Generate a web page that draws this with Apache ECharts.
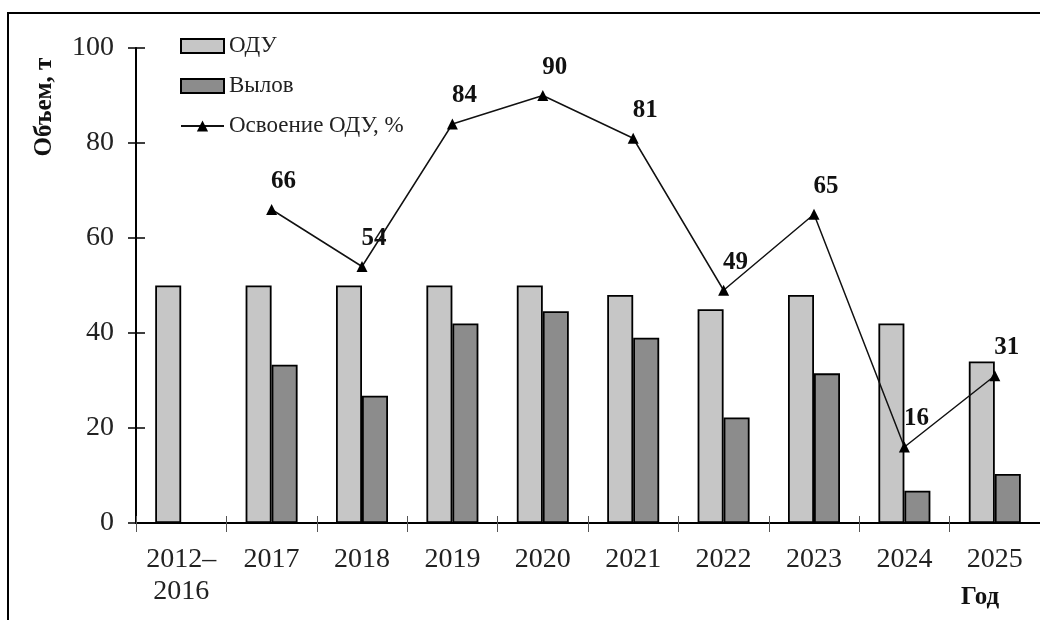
<!DOCTYPE html>
<html>
<head>
<meta charset="utf-8">
<script src="https://cdn.jsdelivr.net/npm/echarts@6/dist/echarts.min.js"></script>
<style>
html,body{margin:0;padding:0;background:#fff;}
#chart{width:1040px;height:620px;}
</style>
</head>
<body>
<div id="chart"></div>
<script>
const categories = ['2012–\n2016', '2017', '2018', '2019', '2020', '2021', '2022', '2023', '2024', '2025'];
const oduValues = [50, 50, 50, 50, 50, 48, 45, 48, 42, 34];
const catchValues = [null, 33.3, 26.8, 42, 44.6, 39, 22.2, 31.5, 6.8, 10.3];
const usagePercent = [null, 66, 54, 84, 90, 81, 49, 65, 16, 31];
const yTicks = { min: 0, max: 100, interval: 20 };

const serif = "'Liberation Serif', 'Times New Roman', serif";

const chart = echarts.init(document.getElementById('chart'));
chart.setOption({
  animation: false,
  backgroundColor: '#ffffff',
  textStyle: { fontFamily: serif },
  grid: { left: 136, right: -4, top: 48, bottom: 97, containLabel: false },
  legend: {
    orient: 'vertical',
    left: 180,
    top: 34,
    padding: 0,
    itemWidth: 43,
    itemHeight: 14,
    itemGap: 16,
    textStyle: { fontFamily: serif, fontSize: 23, color: '#222', lineHeight: 24 },
    data: [
      { name: 'ОДУ', icon: 'rect' },
      { name: 'Вылов', icon: 'rect' },
      { name: 'Освоение ОДУ, %' }
    ]
  },
  xAxis: [
    {
      type: 'category',
      data: categories,
      position: 'bottom',
      axisLine: { show: true, lineStyle: { color: '#000', width: 2 } },
      axisTick: { show: true, alignWithLabel: false, length: 9, lineStyle: { color: '#555', width: 1 } },
      axisLabel: { fontFamily: serif, fontSize: 28, color: '#222', margin: 21, lineHeight: 32, interval: 0 }
    },
    {
      type: 'category',
      data: categories,
      position: 'bottom',
      axisLine: { show: false },
      axisTick: { show: true, inside: true, length: 7, lineStyle: { color: '#555', width: 1 } },
      axisLabel: { show: false }
    }
  ],
  yAxis: [
    {
      type: 'value',
      min: yTicks.min, max: yTicks.max, interval: yTicks.interval,
      position: 'left',
      splitLine: { show: false },
      axisLine: { show: true, lineStyle: { color: '#000', width: 2 } },
      axisTick: { show: true, length: 8, lineStyle: { color: '#000', width: 1.5 } },
      axisLabel: { fontFamily: serif, fontSize: 28, color: '#222', margin: 22 }
    },
    {
      type: 'value',
      min: yTicks.min, max: yTicks.max, interval: yTicks.interval,
      position: 'left',
      splitLine: { show: false },
      axisLine: { show: false },
      axisTick: { show: true, inside: true, length: 9, lineStyle: { color: '#000', width: 1.5 } },
      axisLabel: { show: false }
    }
  ],
  series: [
    {
      name: 'ОДУ',
      type: 'bar',
      data: oduValues,
      barWidth: 26,
      barGap: '0%',
      itemStyle: { color: '#c6c6c6', borderColor: '#000', borderWidth: 1.8 }
    },
    {
      name: 'Вылов',
      type: 'bar',
      data: catchValues,
      barWidth: 26,
      barGap: '0%',
      itemStyle: { color: '#8c8c8c', borderColor: '#000', borderWidth: 1.8 }
    },
    {
      name: 'Освоение ОДУ, %',
      type: 'line',
      data: usagePercent,
      z: 5,
      connectNulls: false,
      symbol: 'triangle',
      symbolSize: 11,
      lineStyle: { color: '#111', width: 1.5 },
      itemStyle: { color: '#000' },
      label: {
        show: true,
        position: 'top',
        offset: [12, -5],
        fontFamily: serif,
        fontWeight: 'bold',
        fontSize: 25,
        color: '#111'
      }
    }
  ],
  graphic: [
    {
      type: 'polyline',
      shape: { points: [[8, 620], [8, 13], [1040, 13]] },
      style: { stroke: '#000', lineWidth: 2, fill: null }
    },
    {
      type: 'text',
      x: 45, y: 107,
      rotation: Math.PI / 2,
      style: {
        text: 'Объем, т',
        font: "bold 25px 'Liberation Serif', serif",
        fill: '#111',
        align: 'center',
        verticalAlign: 'middle'
      }
    },
    {
      type: 'text',
      x: 980, y: 598,
      style: {
        text: 'Год',
        font: "bold 25px 'Liberation Serif', serif",
        fill: '#111',
        align: 'center',
        verticalAlign: 'middle'
      }
    }
  ]
});
</script>
</body>
</html>
